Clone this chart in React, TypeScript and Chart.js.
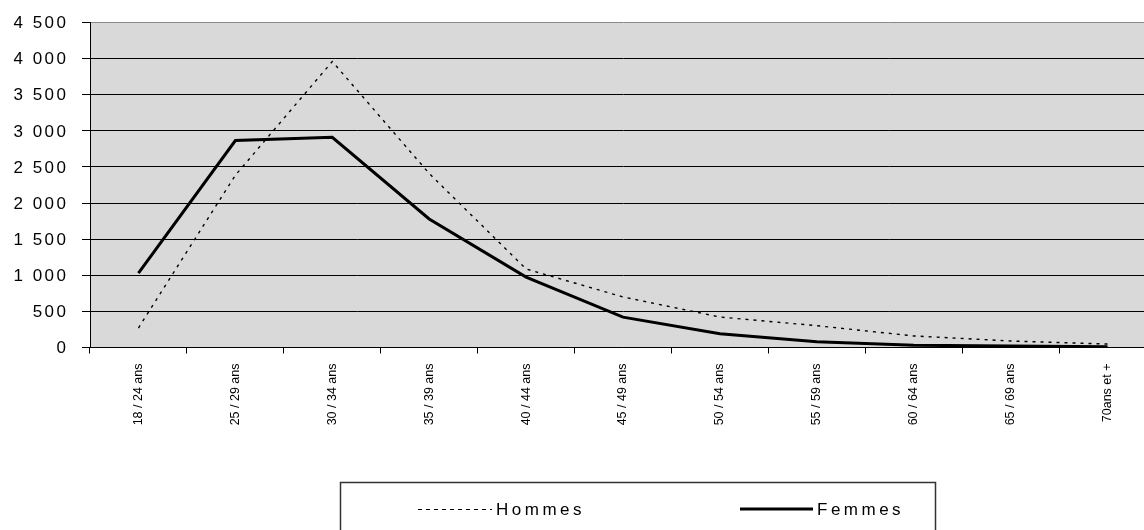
import React, { useEffect, useRef } from 'react';
import { Chart, registerables } from 'chart.js';

Chart.register(...registerables);

const categories = [
  '18 / 24 ans', '25 / 29 ans', '30 / 34 ans', '35 / 39 ans', '40 / 44 ans',
  '45 / 49 ans', '50 / 54 ans', '55 / 59 ans', '60 / 64 ans', '65 / 69 ans', '70ans et +',
];
const hommes = [270, 2385, 3960, 2410, 1087, 700, 422, 302, 160, 90, 48];
const femmes = [1030, 2865, 2910, 1780, 975, 420, 190, 80, 30, 22, 12];
const seriesNames = ['Hommes', 'Femmes'];
const yMin = 0;
const yMax = 4500;
const yStep = 500;

const FONT = '"Liberation Sans", Arial, sans-serif';

function fmt(v: number): string {
  return String(v).replace(/\B(?=(\d{3})+(?!\d))/g, ' ');
}

export default function App() {
  const ref = useRef<HTMLCanvasElement>(null);

  useEffect(() => {
    document.body.style.margin = '0';
    const canvas = ref.current;
    if (!canvas) return;

    const bgPlugin = {
      id: 'plotBg',
      beforeDraw(chart: any) {
        const { ctx, chartArea: a } = chart;
        ctx.save();
        ctx.fillStyle = '#d9d9d9';
        ctx.fillRect(a.left, a.top, a.right - a.left, a.bottom - a.top);
        ctx.restore();
      },
    };

    const textPlugin = {
      id: 'customText',
      afterDraw(chart: any) {
        const ctx = chart.ctx;
        const y = chart.scales.y;
        ctx.save();
        ctx.font = `17px ${FONT}`;
        ctx.fillStyle = '#000';
        ctx.textAlign = 'right';
        ctx.textBaseline = 'middle';
        (ctx as any).letterSpacing = '2.5px';
        y.ticks.forEach((t: any) => {
          ctx.fillText(fmt(t.value), 68.5, y.getPixelForValue(t.value) + 1);
        });
        ctx.restore();

        // legend
        ctx.save();
        ctx.strokeStyle = '#333';
        ctx.lineWidth = 1.5;
        ctx.strokeRect(340.5, 482.5, 595, 80);
        const ly = 509;
        ctx.strokeStyle = '#000';
        ctx.lineWidth = 1;
        ctx.setLineDash([4, 4]);
        ctx.beginPath();
        ctx.moveTo(418, ly + 0.5);
        ctx.lineTo(492, ly + 0.5);
        ctx.stroke();
        ctx.setLineDash([]);
        ctx.lineWidth = 3;
        ctx.beginPath();
        ctx.moveTo(740, ly);
        ctx.lineTo(813, ly);
        ctx.stroke();
        ctx.font = `17px ${FONT}`;
        ctx.fillStyle = '#000';
        ctx.textAlign = 'left';
        ctx.textBaseline = 'middle';
        (ctx as any).letterSpacing = '3.5px';
        ctx.fillText(seriesNames[0], 496, ly + 1);
        ctx.fillText(seriesNames[1], 817, ly + 1);
        ctx.restore();
      },
    };

    const chart = new Chart(canvas, {
      type: 'line',
      data: {
        labels: categories,
        datasets: [
          {
            label: seriesNames[0],
            data: hommes,
            borderColor: '#000',
            borderWidth: 1.4,
            borderDash: [3, 5],
            pointRadius: 0,
            tension: 0,
            fill: false,
          },
          {
            label: seriesNames[1],
            data: femmes,
            borderColor: '#000',
            borderWidth: 3,
            pointRadius: 0,
            tension: 0,
            fill: false,
          },
        ],
      },
      options: {
        animation: false,
        responsive: false,
        devicePixelRatio: 1,
        layout: { padding: { top: 22.5, left: 0, right: 4, bottom: 0 } },
        plugins: { legend: { display: false }, tooltip: { enabled: false } },
        scales: {
          x: {
            type: 'category',
            offset: true,
            grid: { offset: true, drawOnChartArea: false, color: '#000', tickLength: 6 },
            border: { color: '#000' },
            ticks: {
              minRotation: 90,
              maxRotation: 90,
              autoSkip: false,
              padding: 10,
              color: '#000',
              font: { family: FONT, size: 12.5 },
            },
            afterFit(s: any) {
              s.height = 182.5;
            },
          },
          y: {
            min: yMin,
            max: yMax,
            ticks: { stepSize: yStep, display: false },
            grid: {
              color: (c: any) => (c.tick && c.tick.value === yMax ? '#8a8a8a' : '#000'),
              tickColor: '#000',
              tickLength: 8,
            },
            border: { color: '#000' },
            afterFit(s: any) {
              s.width = 90;
            },
          },
        },
      },
      plugins: [bgPlugin, textPlugin],
    });

    return () => chart.destroy();
  }, []);

  return (
    <div style={{ width: 1144, height: 530, overflow: 'hidden' }}>
      <canvas ref={ref} width={1160} height={530} style={{ display: 'block' }} />
    </div>
  );
}
